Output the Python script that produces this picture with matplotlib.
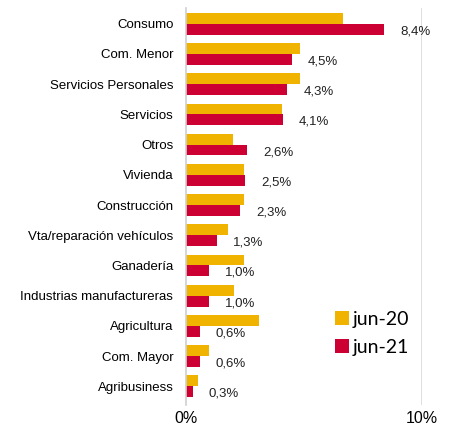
import matplotlib.pyplot as plt
import numpy as np

categorias = ['Consumo', 'Com. Menor', 'Servicios Personales', 'Servicios', 'Otros',
              'Vivienda', 'Construcción', 'Vta/reparación vehículos', 'Ganadería',
              'Industrias manufactureras', 'Agricultura', 'Com. Mayor', 'Agribusiness']
jun20 = [6.65, 4.85, 4.85, 4.05, 2.0, 2.45, 2.45, 1.8, 2.45, 2.05, 3.1, 1.0, 0.5]
jun21 = [8.4, 4.5, 4.3, 4.1, 2.6, 2.5, 2.3, 1.3, 1.0, 1.0, 0.6, 0.6, 0.3]
etiquetas = ['8,4%', '4,5%', '4,3%', '4,1%', '2,6%', '2,5%', '2,3%', '1,3%',
             '1,0%', '1,0%', '0,6%', '0,6%', '0,3%']

amarillo = '#F0B400'
rojo = '#CC0033'

fig = plt.figure(figsize=(4.5, 4.25), dpi=100)
ax = fig.add_axes([0.413, 0.047, 0.525, 0.934])

y = np.arange(len(categorias))
h = 0.36
ax.barh(y - h / 2, jun20, height=h, color=amarillo, label='jun-20')
ax.barh(y + h / 2, jun21, height=h, color=rojo, label='jun-21')

for yi, v, t in zip(y, jun21, etiquetas):
    ax.annotate(t, (v, yi + h / 2), xytext=(11.5, -1.5), textcoords='offset points',
                ha='left', va='center', fontsize=9.5, color='#222222',
                family='Liberation Sans')

ax.set_xlim(0, 10)
ax.set_ylim(12.62, -0.52)
ax.set_yticks(y)
ax.set_yticklabels(categorias, fontsize=9.5, family='Liberation Sans')
ax.set_xticks([0, 10])
ax.set_xticklabels(['0%', '10%'], fontsize=11.5, family='Liberation Sans')
ax.tick_params(axis='both', length=0)
ax.tick_params(axis='y', pad=9)
ax.tick_params(axis='x', pad=4)

for s in ['top', 'right', 'bottom']:
    ax.spines[s].set_visible(False)
ax.spines['left'].set_color('#D0D0D0')
ax.spines['left'].set_linewidth(1.2)
ax.axvline(10, color='#D9D9D9', lw=1.2)

ax.legend(loc='lower right', bbox_to_anchor=(1.02, 0.08), frameon=False,
          prop={'family': 'Lato', 'size': 14}, handlelength=0.7, handleheight=0.7,
          handletextpad=0.2, labelspacing=0.55)

fig.savefig('out.png', dpi=100)
